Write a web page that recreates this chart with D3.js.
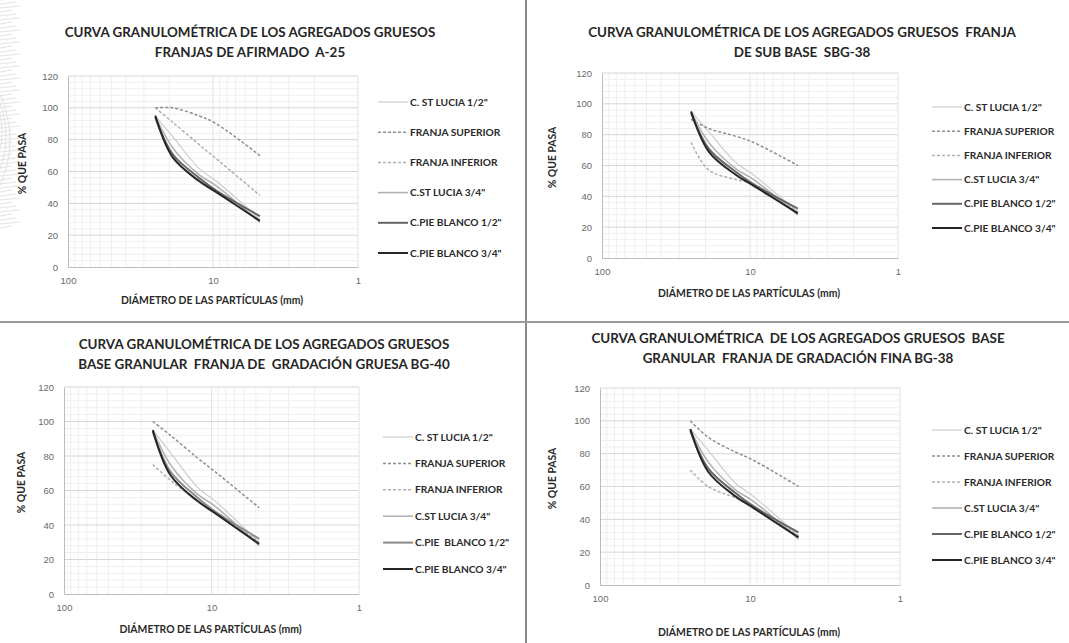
<!DOCTYPE html>
<html>
<head>
<meta charset="utf-8">
<script src="https://cdn.jsdelivr.net/npm/d3@7"></script>
<style>
  body { margin: 0; background: #fff; }
  svg { display: block; font-family: Lato, "Open Sans", sans-serif; }
  text { white-space: pre; }
  .title { font-weight: 700; font-size: 13.4px; fill: #262626; }
  .tick text { font-size: 9.5px; fill: #6a6a6a; }
  .axis-title { font-weight: 700; font-size: 10.4px; fill: #2a2a2a; }
  .legend text { font-weight: 700; font-size: 10.2px; fill: #2a2a2a; }
</style>
</head>
<body>
<svg id="chart" width="1069" height="643"></svg>
<script>
// sieve openings (mm)
const sieves = [25, 19, 12.5, 9.5, 4.75];

// aggregate curves (% que pasa), same material in all four charts
const stLucia12 = [95, 82, 62, 54, 30];
const stLucia34 = [95, 75, 58, 51, 28];
const pieBlanco12 = [94, 71, 56, 48, 32];
const pieBlanco34 = [95, 69, 54, 47, 29];

// band limits per chart
const a25Sup = [100, 100, 95, 90, 70];
const a25Inf = [100, 91, 77, 68, 45];
const sbg38Sup = [90, 84, 79, 75, 60];
const sbg38Inf = [75, 57, 51, 48, 30];
const bg40Sup = [100, 92, 79, 71, 50];
const bg40Inf = [75, 66, 54, 48, 30];
const bg38Sup = [100, 90, 81, 76, 60];
const bg38Inf = [70, 60, 53, 48, 30];

const yTicks = [0, 20, 40, 60, 80, 100, 120];
const xTicks = [100, 10, 1];

const titles = [
  ['CURVA GRANULOMÉTRICA DE LOS AGREGADOS GRUESOS', 'FRANJAS DE AFIRMADO  A-25'],
  ['CURVA GRANULOMÉTRICA DE LOS AGREGADOS GRUESOS  FRANJA', 'DE SUB BASE  SBG-38'],
  ['CURVA GRANULOMÉTRICA DE LOS AGREGADOS GRUESOS', 'BASE GRANULAR  FRANJA DE  GRADACIÓN GRUESA BG-40'],
  ['CURVA GRANULOMÉTRICA  DE LOS AGREGADOS GRUESOS  BASE', 'GRANULAR  FRANJA DE GRADACIÓN FINA BG-38']
];
const bandsSup = [a25Sup, sbg38Sup, bg40Sup, bg38Sup];
const bandsInf = [a25Inf, sbg38Inf, bg40Inf, bg38Inf];
const pieLabel12 = ['C.PIE BLANCO 1/2"', 'C.PIE BLANCO 1/2"', 'C.PIE  BLANCO 1/2"', 'C.PIE BLANCO 1/2"'];

// layout of each panel (pixels)
const panels = [
  { left: 68, right: 358, top: 76, bottom: 267, titleX: 250, titleY: 37, xTitleY: 304, yTitleX: 26, legX: 378, legY: 102, legStep: 30.2 },
  { left: 602, right: 898, top: 73, bottom: 258, titleX: 802, titleY: 37, xTitleY: 297, yTitleX: 556, legX: 932, legY: 107, legStep: 24.2 },
  { left: 64, right: 359, top: 387, bottom: 594, titleX: 264, titleY: 349, xTitleY: 633, yTitleX: 25, legX: 383, legY: 437, legStep: 26.4 },
  { left: 600, right: 900, top: 388, bottom: 585, titleX: 798, titleY: 343, xTitleY: 636, yTitleX: 556, legX: 932, legY: 430, legStep: 26 }
];

const svg = d3.select('#chart');

// faint scanned-page pattern at the top left corner
const deco = svg.append('g').attr('stroke', '#e2e2e2').attr('fill', 'none');
deco.selectAll('path').data(d3.range(6)).enter().append('path')
  .attr('d', d => d3.arc()({ innerRadius: 0, outerRadius: 40 + d * 14, startAngle: Math.PI * 0.15, endAngle: Math.PI * 0.85 }))
  .attr('transform', d => `translate(${-50 - d * 10},${120 + d * 4})`);
deco.selectAll('line').data(d3.range(0, 230, 4)).enter().append('line')
  .attr('x1', 0).attr('x2', d => 12 + (d % 12))
  .attr('y1', d => d).attr('y2', d => d - 2);

// page dividers
svg.append('line').attr('x1', 526).attr('x2', 526).attr('y1', 0).attr('y2', 643)
  .attr('stroke', '#8a8a8a').attr('stroke-width', 2);
svg.append('line').attr('x1', 0).attr('x2', 1069).attr('y1', 322).attr('y2', 322)
  .attr('stroke', '#9a9a9a').attr('stroke-width', 2);

function drawPanel(p, i) {
  const g = svg.append('g').attr('class', `panel panel-${i}`);

  const scaleX = d3.scaleLog().domain([100, 1]).range([p.left, p.right]);
  const scaleY = d3.scaleLinear().domain([0, 120]).range([p.bottom, p.top]);

  // minor grid
  const minorX = [];
  [1, 10].forEach(dec => d3.range(2, 10).forEach(k => minorX.push(dec * k)));
  g.selectAll('.minor-x').data(minorX).enter().append('line')
    .attr('x1', d => scaleX(d)).attr('x2', d => scaleX(d))
    .attr('y1', p.top).attr('y2', p.bottom)
    .attr('stroke', '#efefef');
  g.selectAll('.minor-y').data(d3.range(4, 120, 4).filter(d => d % 20)).enter().append('line')
    .attr('x1', p.left).attr('x2', p.right)
    .attr('y1', d => scaleY(d)).attr('y2', d => scaleY(d))
    .attr('stroke', '#efefef');

  // major grid
  g.selectAll('.major-y').data(yTicks.slice(1)).enter().append('line')
    .attr('x1', p.left).attr('x2', p.right)
    .attr('y1', d => scaleY(d)).attr('y2', d => scaleY(d))
    .attr('stroke', '#d6d6d6');
  g.selectAll('.major-x').data([10, 1]).enter().append('line')
    .attr('x1', d => scaleX(d)).attr('x2', d => scaleX(d))
    .attr('y1', p.top).attr('y2', p.bottom)
    .attr('stroke', '#e2e2e2');

  // axes
  g.append('g').attr('transform', `translate(0,${p.bottom})`)
    .call(d3.axisBottom(scaleX).tickValues(xTicks).tickFormat(d3.format('d')).tickSize(0).tickPadding(10))
    .call(a => a.select('.domain').attr('stroke', '#bdbdbd'));
  g.append('g').attr('transform', `translate(${p.left},0)`)
    .call(d3.axisLeft(scaleY).tickValues(yTicks).tickSize(0).tickPadding(10))
    .call(a => a.select('.domain').attr('stroke', '#bdbdbd'));

  // titles
  g.selectAll('.title').data(titles[i]).enter().append('text')
    .attr('class', 'title')
    .attr('x', p.titleX).attr('y', (d, j) => p.titleY + j * 19.5)
    .attr('text-anchor', 'middle')
    .text(d => d);
  g.append('text').attr('class', 'axis-title')
    .attr('x', (p.left + p.right) / 2 - 1).attr('y', p.xTitleY)
    .attr('text-anchor', 'middle')
    .text('DIÁMETRO DE LAS PARTÍCULAS (mm)');
  g.append('text').attr('class', 'axis-title')
    .attr('transform', `translate(${p.yTitleX},${(p.top + p.bottom) / 2 - 8}) rotate(-90)`)
    .attr('text-anchor', 'middle')
    .text('% QUE PASA');

  // series, drawn light first so the dark curves stay on top
  const series = [
    { name: 'C. ST LUCIA 1/2"', values: stLucia12, color: '#cdcdcd', width: 1.2, dash: null },
    { name: 'FRANJA SUPERIOR', values: bandsSup[i], color: '#8f8f8f', width: 1.5, dash: '3,2' },
    { name: 'FRANJA INFERIOR', values: bandsInf[i], color: '#b0b0b0', width: 1.5, dash: '3,2' },
    { name: 'C.ST LUCIA 3/4"', values: stLucia34, color: '#b2b2b2', width: 1.6, dash: null },
    { name: pieLabel12[i], values: pieBlanco12, color: i === 2 ? '#8a8a8a' : '#666', width: 2, dash: null },
    { name: 'C.PIE BLANCO 3/4"', values: pieBlanco34, color: '#262626', width: 2, dash: null }
  ];

  const line = d3.line()
    .x(d => scaleX(d[0]))
    .y(d => scaleY(d[1]))
    .curve(d3.curveCatmullRom.alpha(0.5));

  g.selectAll('.series').data(series).enter().append('path')
    .attr('class', 'series')
    .attr('fill', 'none')
    .attr('stroke', d => d.color)
    .attr('stroke-width', d => d.width)
    .attr('stroke-dasharray', d => d.dash)
    .attr('d', d => line(sieves.map((s, k) => [s, d.values[k]])));

  // legend
  const leg = g.append('g').attr('class', 'legend')
    .selectAll('g').data(series).enter().append('g')
    .attr('transform', (d, k) => `translate(${p.legX},${p.legY + k * p.legStep})`);
  leg.append('line').attr('x1', 0).attr('x2', 30)
    .attr('stroke', d => d.color).attr('stroke-width', d => d.width)
    .attr('stroke-dasharray', d => d.dash);
  leg.append('text').attr('x', 32).attr('dy', '0.35em').text(d => d.name);
}

panels.forEach(drawPanel);
</script>
</body>
</html>
